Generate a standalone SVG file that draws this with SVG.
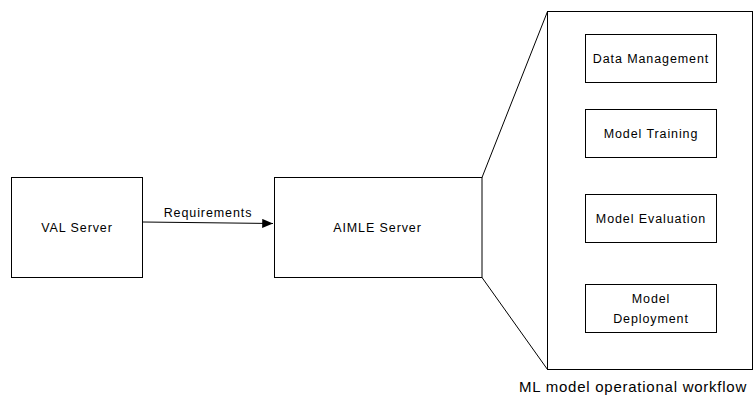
<svg xmlns="http://www.w3.org/2000/svg" width="755" height="400" viewBox="0 0 755 400">
  <defs>
    <style>
      .box { fill: #fff; stroke: #000; stroke-width: 1; }
      .line { fill: none; stroke: #000; stroke-width: 1; }
      .lbl { font-family: "Liberation Sans", Arial, sans-serif; font-size: 12.5px; fill: #000; text-anchor: middle; letter-spacing: 0.9px; }
      .cap { font-family: "Liberation Sans", Arial, sans-serif; font-size: 15px; fill: #000; text-anchor: middle; letter-spacing: 0.75px; }
    </style>
    <marker id="arrow" viewBox="0 0 12 10" refX="12" refY="5" markerWidth="12" markerHeight="9" markerUnits="userSpaceOnUse" orient="auto">
      <path d="M0,0 L12,5 L0,10 z" fill="#000"/>
    </marker>
  </defs>

  <g id="connectors">
    <line class="line" x1="143" y1="222" x2="273" y2="223.5" marker-end="url(#arrow)"/>
    <text class="lbl" x="208" y="217">Requirements</text>
    <line class="line" x1="482" y1="177.5" x2="547.5" y2="11.5"/>
    <line class="line" x1="482" y1="277.5" x2="547.5" y2="369.5"/>
  </g>

  <g id="val-server">
    <rect class="box" x="11.5" y="177.5" width="131" height="100"/>
    <text class="lbl" x="77" y="232">VAL Server</text>
  </g>

  <g id="aimle-server">
    <rect class="box" x="274.5" y="177.5" width="207.5" height="100"/>
    <text class="lbl" x="377.5" y="232">AIMLE Server</text>
  </g>

  <g id="ml-workflow">
    <rect class="box" x="547.5" y="11.5" width="205" height="358"/>
    <text class="cap" x="633" y="392">ML model operational workflow</text>
  </g>

  <g id="data-management">
    <rect class="box" x="585.5" y="34.5" width="131" height="48"/>
    <text class="lbl" x="651" y="63">Data Management</text>
  </g>

  <g id="model-training">
    <rect class="box" x="585.5" y="109.5" width="131" height="48"/>
    <text class="lbl" x="651" y="138">Model Training</text>
  </g>

  <g id="model-evaluation">
    <rect class="box" x="585.5" y="194.5" width="131" height="48"/>
    <text class="lbl" x="651" y="223">Model Evaluation</text>
  </g>

  <g id="model-deployment">
    <rect class="box" x="585.5" y="284.5" width="131" height="48"/>
    <text class="lbl" x="651" y="303">Model</text>
    <text class="lbl" x="651" y="323">Deployment</text>
  </g>
</svg>
